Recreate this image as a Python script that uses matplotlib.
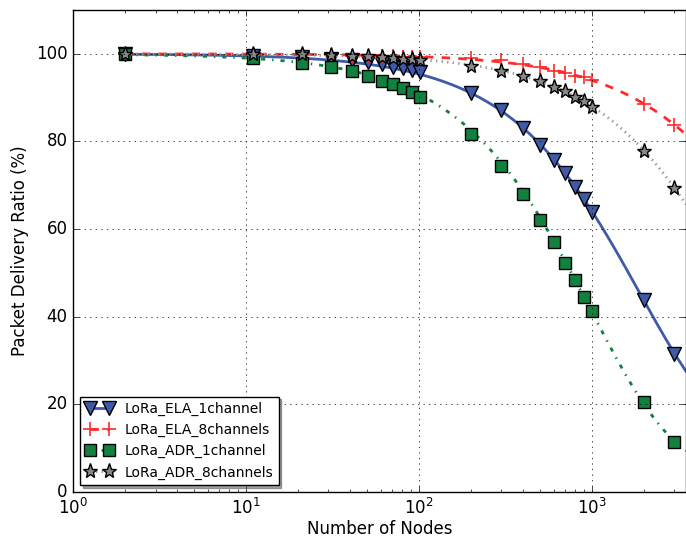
import numpy as np
import matplotlib
matplotlib.use('Agg')
import matplotlib.pyplot as plt
from matplotlib.lines import Line2D

plt.style.use('classic')

# data
nodes = np.array([2, 11, 21, 31, 41, 51, 61, 71, 81, 91, 101,
                  200, 300, 400, 500, 600, 700, 800, 900, 1000, 2000, 3000])
ela_1ch = np.array([100, 99.5, 99.2, 98.9, 98.6, 98.1, 97.6, 97.1, 96.7, 96.3, 95.8,
                    91.0, 87.2, 83.0, 79.3, 75.7, 72.7, 69.6, 66.8, 63.9, 43.9, 31.6])
ela_8ch = np.array([100, 99.9, 99.8, 99.7, 99.6, 99.5, 99.5, 99.4, 99.3, 99.3, 99.2,
                    99.0, 98.5, 97.7, 97.0, 96.1, 95.6, 95.0, 94.6, 94.0, 88.6, 83.8])
adr_1ch = np.array([100, 99.1, 97.9, 97.0, 96.0, 95.0, 93.9, 93.1, 92.1, 91.2, 90.2,
                    81.8, 74.4, 67.9, 62.0, 57.0, 52.3, 48.3, 44.6, 41.3, 20.6, 11.5])
adr_8ch = np.array([100, 100, 99.9, 99.7, 99.6, 99.4, 99.3, 99.1, 98.9, 98.8, 98.6,
                    97.3, 96.1, 95.0, 93.9, 92.5, 91.5, 90.2, 89.2, 87.9, 77.9, 69.4])

labels = ['LoRa_ELA_1channel', 'LoRa_ELA_8channels', 'LoRa_ADR_1channel', 'LoRa_ADR_8channels']
series = [ela_1ch, ela_8ch, adr_1ch, adr_8ch]
styles = [
    dict(color='#3f5aa8', ls='-', marker='v', mfc='#3f5aa8', ms=9.5, mew=1.0),
    dict(color='#ff2a2a', ls='--', marker='+', mfc='#ff2a2a', ms=10, mew=1.2),
    dict(color='#12803e', ls='-.', marker='s', mfc='#12803e', ms=8.5, mew=1.0),
    dict(color='#999999', ls=':', marker='*', mfc='#888888', ms=11, mew=1.0),
]


def fit_curve(x, p, xs):
    # fit -ln(p/100) = a*x + b*x^2 (no intercept, so it starts at 100%)
    A = np.column_stack([x, x ** 2])
    coef = np.linalg.lstsq(A, -np.log(p / 100.0), rcond=None)[0]
    return 100 * np.exp(-(coef[0] * xs + coef[1] * xs ** 2))


fig = plt.figure(figsize=(6.86, 5.39), dpi=100)
ax = fig.add_axes([73 / 686, 1 - 492 / 539, 1 - 73 / 686, (492 - 10) / 539])

xs = np.logspace(np.log10(2), np.log10(3500), 300)
handles = []
for vals, st, lab in zip(series, styles, labels):
    ax.plot(xs, fit_curve(nodes, vals, xs), color=st['color'], ls=st['ls'], lw=2)
    mec = st['color'] if st['marker'] == '+' else 'black'
    ax.plot(nodes, vals, ls='none', marker=st['marker'], ms=st['ms'],
            mfc=st['mfc'], mec=mec, mew=st['mew'])
    handles.append(Line2D([], [], color=st['color'], ls=st['ls'], lw=2,
                          marker=st['marker'], ms=st['ms'], mfc=st['mfc'],
                          mec=mec, mew=st['mew']))

ax.set_xscale('log')
ax.set_xlim(1, 3500)
ax.set_ylim(0, 110)
ax.set_yticks([0, 20, 40, 60, 80, 100])
ax.grid(True)
ax.set_xlabel('Number of Nodes', fontsize=12, labelpad=2)
ax.set_ylabel('Packet Delivery Ratio (%)', fontsize=12)
ax.tick_params(labelsize=12)

ax.legend(handles, labels, loc='lower left', fontsize=10, numpoints=2,
          shadow=True, fancybox=False)

plt.savefig('out.png', dpi=100)
